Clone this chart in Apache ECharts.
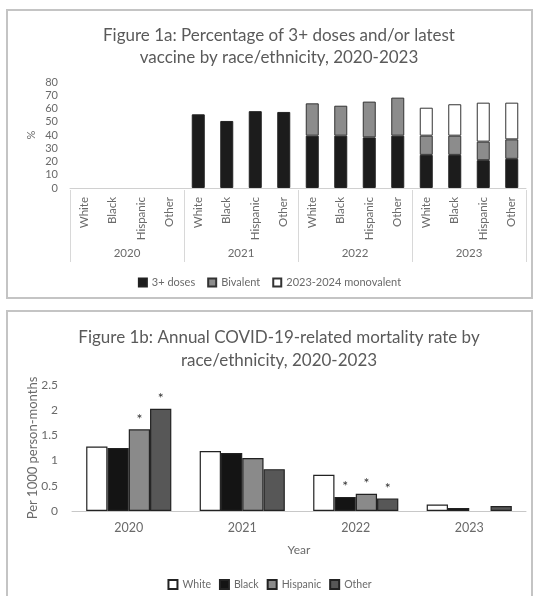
<!DOCTYPE html>
<html>
<head>
<meta charset="utf-8">
<script src="https://cdn.jsdelivr.net/npm/echarts@6/dist/echarts.min.js"></script>
<style>
html,body{margin:0;padding:0;background:#fff;}
#c{width:539px;height:596px;}
</style>
</head>
<body>
<div id="c"></div>
<script>
// ---------- Figure 1a data ----------
const raceCats = ['White','Black','Hispanic','Other','White','Black','Hispanic','Other','White','Black','Hispanic','Other','White','Black','Hispanic','Other'];
const yearCats = ['2020','2021','2022','2023'];
const doses3 = [null,null,null,null, 55.6,50.6,58,57.4, 39.5,39.5,38.2,39.5, 25,25,21,22];
const bivalent = [null,null,null,null, null,null,null,null, 24.4,22.6,27,28.7, 14.5,14.5,14,14.7];
const monovalent = [null,null,null,null, null,null,null,null, null,null,null,null, 21.1,23.7,29.4,27.7];
const pctTicks = [0,10,20,30,40,50,60,70,80];

// ---------- Figure 1b data ----------
const mortYears = ['2020','2021','2022','2023'];
const mortWhite = [1.28,1.19,0.72,0.13];
const mortBlack = [1.25,1.15,0.28,0.06];
const mortHispanic = [1.62,1.05,0.34,null];
const mortOther = [2.03,0.83,0.25,0.10];
// significance markers (*)
const sigWhite = [false,false,false,false];
const sigBlack = [false,false,true,false];
const sigHispanic = [true,false,true,false];
const sigOther = [true,false,true,false];

const FONT = 'Lato, "Open Sans", sans-serif';
const TXT = '#6a6a6a';

function withStars(vals, sig){
  return vals.map((v,i)=>({value:v, label:{show: !!sig[i] && v!=null}}));
}

const chart = echarts.init(document.getElementById('c'), null, {renderer:'canvas'});

const option = {
  backgroundColor:'#ffffff',
  animation:false,
  textStyle:{fontFamily:FONT},
  graphic:[
    {type:'rect', shape:{x:7,y:10,width:525,height:288}, style:{fill:'none', stroke:'#c4c4c4', lineWidth:2}, silent:true, z:-1},
    {type:'rect', shape:{x:7,y:311,width:525,height:300}, style:{fill:'none', stroke:'#c4c4c4', lineWidth:2}, silent:true, z:-1}
  ],
  title:[
    {text:'Figure 1a: Percentage of 3+ doses and/or latest\nvaccine by race/ethnicity, 2020-2023', left:274, top:20, textAlign:'center',
     textStyle:{fontFamily:FONT, fontSize:17, fontWeight:'normal', color:'#5a5a5a', lineHeight:22}},
    {text:'Figure 1b: Annual COVID-19-related mortality rate by\nrace/ethnicity, 2020-2023', left:274, top:321, textAlign:'center',
     textStyle:{fontFamily:FONT, fontSize:17, fontWeight:'normal', color:'#5a5a5a', lineHeight:23}}
  ],
  legend:[
    {data:['3+ doses','Bivalent','2023-2024 monovalent'], left:'center', top:272, itemWidth:8, itemHeight:8, itemGap:12,
     icon:'rect', textStyle:{fontFamily:FONT, fontSize:11, color:TXT}},
    {data:['White','Black','Hispanic','Other'], left:'center', top:574, itemWidth:9, itemHeight:9, itemGap:8,
     icon:'rect', textStyle:{fontFamily:FONT, fontSize:10.5, color:TXT}}
  ],
  grid:[
    {left:70, right:13, top:82, height:106},
    {left:72, right:13, top:385, height:126}
  ],
  xAxis:[
    {gridIndex:0, type:'category', data:raceCats,
     axisLine:{lineStyle:{color:'#d0d0d0'}}, axisTick:{show:false},
     axisLabel:{rotate:90, fontSize:11.5, color:TXT, margin:9, interval:0, fontFamily:FONT}},
    {gridIndex:0, type:'category', data:yearCats, position:'bottom', offset:74,
     axisLine:{show:false},
     axisTick:{show:true, inside:true, length:72, lineStyle:{color:'#d8d8d8'}},
     axisLabel:{inside:true, margin:3, fontSize:11.5, color:TXT, fontFamily:FONT}},
    {gridIndex:1, type:'category', data:mortYears,
     axisLine:{lineStyle:{color:'#c8c8c8'}}, axisTick:{show:false},
     axisLabel:{fontSize:12.5, color:TXT, margin:10, fontFamily:FONT},
     name:'Year', nameLocation:'middle', nameGap:33, nameTextStyle:{fontSize:12, color:TXT, fontFamily:FONT}}
  ],
  yAxis:[
    {gridIndex:0, type:'value', min:pctTicks[0], max:pctTicks[pctTicks.length-1], interval:10,
     splitLine:{show:false}, axisLine:{show:false}, axisTick:{show:false},
     axisLabel:{fontSize:11, color:TXT, margin:12, fontFamily:FONT},
     name:'%', nameLocation:'middle', nameGap:33, nameRotate:90, nameMoveOverlap:false,
     nameTextStyle:{fontSize:11, color:TXT, fontFamily:FONT}},
    {gridIndex:1, type:'value', min:0, max:2.5, interval:0.5,
     splitLine:{show:false}, axisLine:{show:false}, axisTick:{show:false},
     axisLabel:{fontSize:12, color:TXT, margin:14, fontFamily:FONT},
     name:'Per 1000 person-months', nameLocation:'middle', nameGap:33, nameMoveOverlap:false,
     nameTextStyle:{fontSize:13, color:TXT, fontFamily:FONT}}
  ],
  series:[
    {name:'3+ doses', type:'bar', stack:'v', xAxisIndex:0, yAxisIndex:0, data:doses3, barWidth:13,
     itemStyle:{color:'#1c1c1c', borderColor:'#222', borderWidth:1}},
    {name:'Bivalent', type:'bar', stack:'v', xAxisIndex:0, yAxisIndex:0, data:bivalent, barWidth:13,
     itemStyle:{color:'#8c8c8c', borderColor:'#333', borderWidth:1}},
    {name:'2023-2024 monovalent', type:'bar', stack:'v', xAxisIndex:0, yAxisIndex:0, data:monovalent, barWidth:13,
     itemStyle:{color:'#ffffff', borderColor:'#333', borderWidth:1}},

    {name:'White', type:'bar', xAxisIndex:2, yAxisIndex:1, data:withStars(mortWhite,sigWhite), barGap:'0%', barCategoryGap:'25%',
     itemStyle:{color:'#ffffff', borderColor:'#222', borderWidth:1.2},
     label:{show:false, position:'top', formatter:'*', fontSize:14, color:'#333', distance:3}},
    {name:'Black', type:'bar', xAxisIndex:2, yAxisIndex:1, data:withStars(mortBlack,sigBlack), barGap:'0%', barCategoryGap:'25%',
     itemStyle:{color:'#141414', borderColor:'#222', borderWidth:1.2},
     label:{show:false, position:'top', formatter:'*', fontSize:14, color:'#333', distance:3}},
    {name:'Hispanic', type:'bar', xAxisIndex:2, yAxisIndex:1, data:withStars(mortHispanic,sigHispanic), barGap:'0%', barCategoryGap:'25%',
     itemStyle:{color:'#8a8a8a', borderColor:'#222', borderWidth:1.2},
     label:{show:false, position:'top', formatter:'*', fontSize:14, color:'#333', distance:3}},
    {name:'Other', type:'bar', xAxisIndex:2, yAxisIndex:1, data:withStars(mortOther,sigOther), barGap:'0%', barCategoryGap:'25%',
     itemStyle:{color:'#575757', borderColor:'#222', borderWidth:1.2},
     label:{show:false, position:'top', formatter:'*', fontSize:14, color:'#333', distance:3}}
  ]
};
chart.setOption(option);
</script>
</body>
</html>
